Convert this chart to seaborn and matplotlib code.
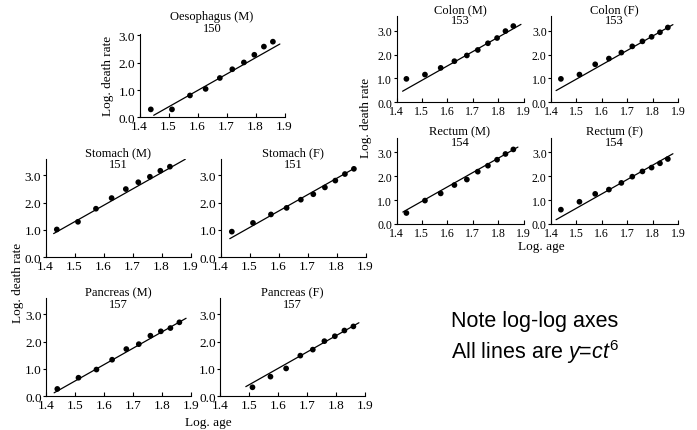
import matplotlib
matplotlib.use("Agg")
import matplotlib.pyplot as plt
import numpy as np
import seaborn as sns

# ---------------- data ----------------
age_x = [1.439, 1.512, 1.574, 1.628, 1.677, 1.720, 1.760, 1.796, 1.829, 1.860]

oeso_m = [0.29, 0.29, 0.80, 1.04, 1.44, 1.76, 2.01, 2.29, 2.59, 2.77]
stomach_m = [1.02, 1.30, 1.78, 2.17, 2.50, 2.75, 2.95, 3.17, 3.32]
stomach_f = [0.94, 1.26, 1.57, 1.81, 2.11, 2.31, 2.56, 2.81, 3.05, 3.24]
pancreas_m = [0.27, 0.68, 0.98, 1.34, 1.73, 1.91, 2.22, 2.38, 2.50, 2.71]
pancreas_f = [0.33, 0.72, 1.02, 1.49, 1.71, 2.02, 2.20, 2.41, 2.56]
colon_m = [0.98, 1.16, 1.44, 1.72, 1.96, 2.19, 2.47, 2.69, 2.98, 3.19]
colon_f = [0.98, 1.16, 1.59, 1.83, 2.08, 2.34, 2.55, 2.74, 2.93, 3.13]
rectum_m = [0.46, 0.98, 1.28, 1.63, 1.86, 2.19, 2.44, 2.69, 2.93, 3.12]
rectum_f = [0.60, 0.93, 1.26, 1.44, 1.72, 1.98, 2.20, 2.36, 2.54, 2.72]

titles = ["Oesophagus (M)", "Stomach (M)", "Stomach (F)", "Pancreas (M)",
          "Pancreas (F)", "Colon (M)", "Colon (F)", "Rectum (M)", "Rectum (F)"]
icd_codes = ["150", "151", "151", "157", "157", "153", "153", "154", "154"]

# fitted lines y = SLOPE * log(age) + intercept  (i.e. y = c t^6)
SLOPE = 6.0
intercepts = [-8.62, -7.70, -7.91, -8.44, -8.58, -8.08, -8.03, -8.05, -8.34]
fit_x0 = [1.449, 1.428, 1.432, 1.428, 1.489, 1.424, 1.420, 1.425, 1.420]
fit_x1 = [1.884, 1.882, 1.863, 1.883, 1.879, 1.890, 1.880, 1.878, 1.880]

x_ticks = [1.4, 1.5, 1.6, 1.7, 1.8, 1.9]
x_ticklabels = ["1.4", "1.5", "1.6", "1.7", "1.8", "1.9"]
y_ticks = [0.0, 1.0, 2.0, 3.0]
y_ticklabels = ["0.0", "1.0", "2.0", "3.0"]

series = [
    (age_x, oeso_m),
    (age_x[:9], stomach_m),
    (age_x, stomach_f),
    (age_x, pancreas_m),
    (age_x[1:], pancreas_f),
    (age_x, colon_m),
    (age_x, colon_f),
    (age_x, rectum_m),
    (age_x, rectum_f),
]

# ---------------- layout (pixels) ----------------
W, H = 697, 431
# (x0 px, bottom px, width px, px per y unit, ymax, title line1 y, title line2 y, tick font)
layout = [
    (139.5, 118.3, 145, 27.3, 3.05, 17, 29, 9.5),
    (45.5, 258.3, 145, 27.3, 3.6, 153, 165, 9.5),
    (220.5, 258.3, 145, 27.3, 3.6, 153, 165, 9.5),
    (46.0, 397.3, 145, 27.3, 3.6, 293, 305, 9.5),
    (220.0, 397.3, 145, 27.3, 3.6, 293, 305, 9.5),
    (396.5, 103.3, 127, 23.9, 3.6, 10, 21, 8.6),
    (551.0, 103.3, 127, 23.9, 3.6, 10, 21, 8.6),
    (396.5, 225.0, 127, 23.9, 3.6, 132, 143, 8.6),
    (551.0, 225.0, 127, 23.9, 3.6, 132, 143, 8.6),
]

sns.set_theme(style="ticks")
plt.rcParams["font.family"] = ["Liberation Serif", "DejaVu Serif"]
plt.rcParams["axes.linewidth"] = 0.8
plt.rcParams["text.color"] = "black"
plt.rcParams["axes.labelcolor"] = "black"
plt.rcParams["xtick.color"] = "black"
plt.rcParams["ytick.color"] = "black"
plt.rcParams["axes.edgecolor"] = "black"
plt.rcParams["mathtext.fontset"] = "custom"
plt.rcParams["mathtext.rm"] = "Liberation Sans"
plt.rcParams["mathtext.it"] = "Liberation Sans:italic"

fig = plt.figure(figsize=(W / 100, H / 100), dpi=100)
fig.patch.set_facecolor("white")

SERIF = ["Liberation Serif", "DejaVu Serif"]
SANS = ["Liberation Sans", "DejaVu Sans"]

for i, ((xs, ys), lay) in enumerate(zip(series, layout)):
    x0, bot, wpx, yscale, ymax, t1, t2, tfs = lay
    hpx = ymax * yscale
    ax = fig.add_axes([x0 / W, (H - bot) / H, wpx / W, hpx / H])
    ax.set_facecolor("none")
    sns.scatterplot(x=xs, y=ys, ax=ax, color="black", s=17, edgecolor="none",
                    linewidth=0, zorder=3)
    fx = np.array([fit_x0[i], fit_x1[i]])
    fy = SLOPE * fx + intercepts[i]
    sns.lineplot(x=fx, y=fy, ax=ax, color="black", linewidth=0.9, zorder=2)
    ax.set_xlim(1.4, 1.9)
    ax.set_ylim(0, ymax)
    ax.set_xticks(x_ticks)
    ax.set_xticklabels(x_ticklabels, fontsize=tfs, family=SERIF, color="black")
    ax.set_yticks(y_ticks)
    ax.set_yticklabels(y_ticklabels, fontsize=tfs, family=SERIF, color="black")
    ax.tick_params(axis="x", direction="in", length=3, width=0.8, pad=2,
                   colors="black")
    ax.tick_params(axis="y", direction="out", length=2.5, width=0.8, pad=0.6,
                   colors="black")
    for s in ["top", "right"]:
        ax.spines[s].set_visible(False)
    for s in ["left", "bottom"]:
        ax.spines[s].set_color("black")
        ax.spines[s].set_linewidth(0.8)
    ax.set_xlabel("")
    ax.set_ylabel("")
    ax.grid(False)
    cx = (x0 + wpx / 2) / W
    fig.text(cx, 1 - t1 / H, titles[i], ha="center", va="center",
             fontsize=9, family=SERIF, color="black")
    fig.text(cx, 1 - t2 / H, icd_codes[i], ha="center", va="center",
             fontsize=9, family=SERIF, color="black")

# axis labels
fig.text(108 / W, 1 - 76 / H, "Log. death rate", rotation=90, ha="center",
         va="center", fontsize=9.5, family=SERIF, color="black")
fig.text(18 / W, 1 - 283 / H, "Log. death rate", rotation=90, ha="center",
         va="center", fontsize=9.5, family=SERIF, color="black")
fig.text(366 / W, 1 - 118 / H, "Log. death rate", rotation=90, ha="center",
         va="center", fontsize=9.5, family=SERIF, color="black")
fig.text(208 / W, 1 - 423 / H, "Log. age", ha="center", va="center",
         fontsize=9.5, family=SERIF, color="black")
fig.text(541 / W, 1 - 247 / H, "Log. age", ha="center", va="center",
         fontsize=9.5, family=SERIF, color="black")

# note
fig.text(451 / W, 1 - 322 / H, "Note log-log axes", ha="left", va="center",
         fontsize=15.5, family=SANS, color="black")
fig.text(451 / W, 1 - 352 / H, r"All lines are $\mathit{y}$=$\mathit{ct}^{\mathrm{6}}$",
         ha="left", va="center", fontsize=15.5, family=SANS, color="black")

fig.savefig("out.png", dpi=100, facecolor="white")
